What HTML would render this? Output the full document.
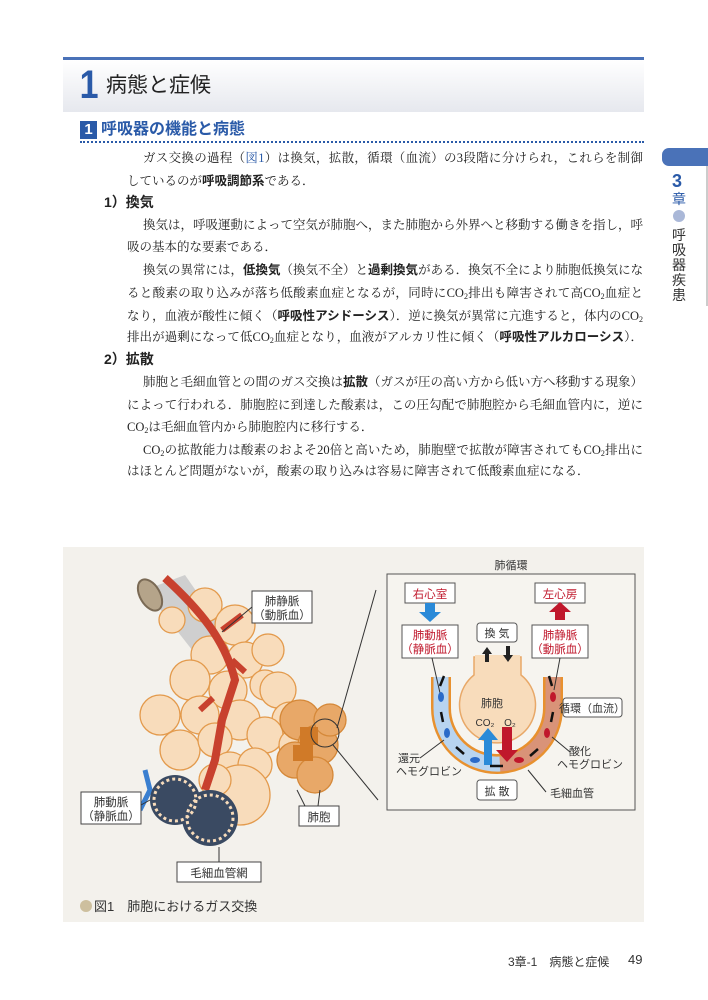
<!DOCTYPE html>
<html><head><meta charset="utf-8">
<style>
*{margin:0;padding:0;box-sizing:border-box}
body{width:708px;height:1000px;background:#fff;position:relative;overflow:hidden;font-family:"Liberation Serif","Noto Serif CJK SC","Noto Sans CJK JP",serif;color:#222}
.sans{font-family:"Liberation Sans","Noto Sans CJK JP",sans-serif}
.abs{position:absolute}
.ln{position:absolute;left:127px;width:516px;font-size:12.5px;line-height:20px;white-space:nowrap;text-align:justify;text-align-last:justify}
.ind{left:143px;width:500px}
.b{font-family:"Liberation Sans","Noto Sans CJK JP",sans-serif;font-weight:bold}
.bl{color:#2a5aa8}
sub{font-size:8px;vertical-align:-2px}
</style></head><body>
<div class="abs" style="left:63px;top:57px;width:581px;height:3px;background:#4a72b8"></div>
<div class="abs" style="left:63px;top:60px;width:581px;height:52px;background:linear-gradient(#ffffff,#e6e8ee)"></div>
<div class="abs sans" style="left:78px;top:62px;font-size:40px;line-height:46px;color:#2a5aa8;font-weight:bold;transform:scaleX(0.85)">1</div>
<div class="abs sans" style="left:106px;top:72px;font-size:21px;line-height:28px;color:#222">病態と症候</div>

<div class="abs sans" style="left:80px;top:121px;width:17px;height:18px;background:#2a5aa8;color:#fff;font-weight:bold;font-size:15px;line-height:18px;text-align:center">1</div>
<div class="abs sans" style="left:101px;top:119px;font-size:16px;line-height:22px;color:#2a5aa8;font-weight:bold">呼吸器の機能と病態</div>
<div class="abs" style="left:80px;top:141px;width:564px;border-top:2px dotted #2a5aa8"></div>

<div class="abs" style="left:662px;top:148px;width:46px;height:18px;background:#4a72b8;border-radius:7px 0 0 7px"></div>
<div class="abs" style="left:706px;top:166px;width:2px;height:140px;background:#ccc"></div>
<div class="abs sans" style="left:672px;top:171px;font-size:18px;font-weight:bold;color:#2a5aa8;line-height:20px">3</div>
<div class="abs sans" style="left:672px;top:191px;font-size:14px;color:#2a5aa8;line-height:16px">章</div>
<div class="abs" style="left:673px;top:210px;width:12px;height:12px;border-radius:50%;background:#aab8d8"></div>
<div class="abs sans" style="left:672px;top:228px;font-size:14px;line-height:15px;width:16px;color:#333">呼<br>吸<br>器<br>疾<br>患</div>

<div class="ln ind" style="top:148px">ガス交換の過程（<span class="bl">図1</span>）は換気，拡散，循環（血流）の3段階に分けられ，これらを制御</div>
<div class="ln" style="top:171px;text-align-last:left">しているのが<span class="b">呼吸調節系</span>である．</div>
<div class="abs b" style="left:104px;top:192px;font-size:14px;line-height:20px">1）換気</div>
<div class="ln ind" style="top:215px">換気は，呼吸運動によって空気が肺胞へ，また肺胞から外界へと移動する働きを指し，呼</div>
<div class="ln" style="top:237px;text-align-last:left">吸の基本的な要素である．</div>
<div class="ln ind" style="top:260px">換気の異常には，<span class="b">低換気</span>（換気不全）と<span class="b">過剰換気</span>がある．換気不全により肺胞低換気にな</div>
<div class="ln" style="top:283px">ると酸素の取り込みが落ち低酸素血症となるが，同時にCO<sub>2</sub>排出も障害されて高CO<sub>2</sub>血症と</div>
<div class="ln" style="top:306px">なり，血液が酸性に傾く（<span class="b">呼吸性アシドーシス</span>）．逆に換気が異常に亢進すると，体内のCO<sub>2</sub></div>
<div class="ln" style="top:327px">排出が過剰になって低CO<sub>2</sub>血症となり，血液がアルカリ性に傾く（<span class="b">呼吸性アルカローシス</span>）．</div>
<div class="abs b" style="left:104px;top:349px;font-size:14px;line-height:20px">2）拡散</div>
<div class="ln ind" style="top:372px">肺胞と毛細血管との間のガス交換は<span class="b">拡散</span>（ガスが圧の高い方から低い方へ移動する現象）</div>
<div class="ln" style="top:395px">によって行われる．肺胞腔に到達した酸素は，この圧勾配で肺胞腔から毛細血管内に，逆に</div>
<div class="ln" style="top:417px;text-align-last:left">CO<sub>2</sub>は毛細血管内から肺胞腔内に移行する．</div>
<div class="ln ind" style="top:440px">CO<sub>2</sub>の拡散能力は酸素のおよそ20倍と高いため，肺胞壁で拡散が障害されてもCO<sub>2</sub>排出に</div>
<div class="ln" style="top:461px;text-align-last:left">はほとんど問題がないが，酸素の取り込みは容易に障害されて低酸素血症になる．</div>

<svg class="abs" style="left:0;top:0" width="708" height="1000" font-family="Liberation Sans,Noto Sans CJK JP,sans-serif">
<rect x="63" y="547" width="581" height="375" fill="#f3f1ec"/>
<path d="M145,590 L185,575 L230,640 L200,660 Z" fill="#cfcfcf"/>
<ellipse cx="150" cy="595" rx="10" ry="17" transform="rotate(-30 150 595)" fill="#b5a48a" stroke="#7a6a55" stroke-width="2"/>
<g fill="#f8dcbb" stroke="#e39a4c" stroke-width="1.3">
<circle cx="172" cy="620" r="13"/><circle cx="205" cy="605" r="17"/><circle cx="235" cy="625" r="20"/>
<circle cx="210" cy="655" r="19"/><circle cx="245" cy="660" r="18"/><circle cx="268" cy="650" r="16"/>
<circle cx="190" cy="680" r="20"/><circle cx="228" cy="690" r="19"/><circle cx="265" cy="685" r="15"/>
<circle cx="160" cy="715" r="20"/><circle cx="200" cy="715" r="19"/><circle cx="240" cy="720" r="20"/>
<circle cx="278" cy="690" r="18"/><circle cx="290" cy="720" r="18"/><circle cx="265" cy="735" r="18"/>
<circle cx="180" cy="750" r="20"/><circle cx="215" cy="740" r="17"/><circle cx="230" cy="770" r="18"/>
<circle cx="255" cy="765" r="17"/><circle cx="240" cy="795" r="30"/><circle cx="215" cy="780" r="16"/>
<circle cx="295" cy="745" r="16"/>
</g>
<g fill="#e8a868" stroke="#d58838" stroke-width="1.3">
<circle cx="300" cy="720" r="20"/><circle cx="318" cy="745" r="20"/><circle cx="295" cy="760" r="18"/>
<circle cx="315" cy="775" r="18"/><circle cx="330" cy="720" r="16"/>
</g>
<rect x="300" y="727" width="18" height="18" fill="#d07a28"/><rect x="293" y="745" width="20" height="16" fill="#d07a28"/>
<circle cx="325" cy="733" r="14" fill="none" stroke="#333" stroke-width="1"/>
<line x1="337" y1="728" x2="376" y2="590" stroke="#333"/><line x1="333" y1="745" x2="378" y2="800" stroke="#333"/>
<path d="M165,578 C200,610 225,640 235,680 L222,720 L215,760 L205,790" fill="none" stroke="#c8412e" stroke-width="8"/>
<path d="M222,630 L242,615 M232,660 L245,672 M213,698 L200,710" stroke="#c8412e" stroke-width="6"/>
<path d="M145,770 L150,790 L160,800 M150,790 L140,810" stroke="#3a7fd0" stroke-width="5" fill="none"/>
<circle cx="175" cy="800" r="25" fill="#3a4a62"/><circle cx="210" cy="818" r="28" fill="#3a4a62"/>
<circle cx="175" cy="800" r="21" fill="none" stroke="#f8dcbb" stroke-width="3" stroke-dasharray="3 3"/>
<circle cx="210" cy="818" r="23" fill="none" stroke="#f8dcbb" stroke-width="3" stroke-dasharray="3 3"/>
<g fill="#fff" stroke="#444" stroke-width="1">
<rect x="252" y="591" width="60" height="32"/><rect x="81" y="792" width="60" height="32"/>
<rect x="299" y="806" width="40" height="20"/><rect x="177" y="862" width="84" height="20"/>
</g>
<line x1="252" y1="607" x2="222" y2="632" stroke="#333"/><line x1="141" y1="805" x2="150" y2="800" stroke="#333"/>
<line x1="219" y1="847" x2="219" y2="862" stroke="#333"/><line x1="305" y1="806" x2="297" y2="790" stroke="#333"/><line x1="318" y1="806" x2="320" y2="790" stroke="#333"/>
<g font-size="11.5" fill="#333" text-anchor="middle">
<text x="282" y="605">肺静脈</text><text x="282" y="619">（動脈血）</text>
<text x="111" y="806">肺動脈</text><text x="111" y="820">（静脈血）</text>
<text x="319" y="821">肺胞</text><text x="219" y="877">毛細血管網</text>
</g>
<circle cx="86" cy="906" r="6" fill="#cdbf9e"/>
<text x="94" y="911" font-size="13" fill="#333">図1　肺胞におけるガス交換</text>

<rect x="387" y="574" width="248" height="236" fill="#f6f4ef" stroke="#555" stroke-width="1"/>
<text x="511" y="569" font-size="11" fill="#333" text-anchor="middle">肺循環</text>
<!-- U tube -->
<path d="M441,677 V708 A56,56 0 0 0 553,708 V677" fill="none" stroke="#e8912f" stroke-width="20"/>
<path d="M441,677 V708 A56,56 0 0 0 500,764" fill="none" stroke="#b8d4f0" stroke-width="15"/>
<path d="M500,764 A56,56 0 0 0 553,708 V677" fill="none" stroke="#d99378" stroke-width="15"/>
<path d="M474,657 V675 A38,38 0 1 0 521,675 V657 Z" fill="#f8dcbb" stroke="#e8a868" stroke-width="1.5"/>
<rect x="475" y="655" width="45" height="24" fill="#f8dcbb"/>
<g fill="#fff" stroke="#555">
<rect x="405" y="583" width="50" height="20"/><rect x="535" y="583" width="50" height="20"/>
<rect x="402" y="625" width="56" height="33"/><rect x="532" y="625" width="56" height="33"/>
<rect x="477" y="623" width="40" height="19" rx="3"/><rect x="563" y="698" width="59" height="19" rx="3"/>
<rect x="477" y="780" width="40" height="20" rx="3"/>
</g>
<line x1="432" y1="658" x2="440" y2="693" stroke="#333"/><line x1="560" y1="658" x2="554" y2="690" stroke="#333"/>
<path d="M425,603 h10 v9 h6 l-11,10 l-11,-10 h6z" fill="#2a8ad8"/>
<path d="M555,620 h10 v-8 h6 l-11,-10 l-11,10 h6z" fill="#c0182c"/>
<path d="M484,765 v-25 h-6 l10,-12 l10,12 h-6 v25z" fill="#2a8ad8"/>
<path d="M502,727 v23 h-6 l11,12 l11,-12 h-6 v-23z" fill="#c0182c"/>
<g font-size="11.5" fill="#c0182c" text-anchor="middle">
<text x="430" y="598">右心室</text><text x="560" y="598">左心房</text>
<text x="430" y="639">肺動脈</text><text x="430" y="653">（静脈血）</text>
<text x="560" y="639">肺静脈</text><text x="560" y="653">（動脈血）</text>
</g>
<g font-size="11" fill="#333" text-anchor="middle">
<text x="497" y="637">換 気</text><text x="592" y="712">循環（血流）</text><text x="497" y="795">拡 散</text>
<text x="492" y="707">肺胞</text><text x="485" y="726" font-size="10">CO₂</text><text x="510" y="726" font-size="10">O₂</text>
<text x="409" y="762">還元</text><text x="429" y="775">ヘモグロビン</text>
<text x="580" y="755">酸化</text><text x="590" y="768">ヘモグロビン</text><text x="572" y="797">毛細血管</text>
</g>
<line x1="420" y1="758" x2="444" y2="740" stroke="#333"/><line x1="570" y1="752" x2="552" y2="737" stroke="#333"/><line x1="546" y1="792" x2="528" y2="770" stroke="#333"/>
<g fill="#222"><path d="M487,647 l-5,7 h3 v8 h4 v-8 h3z"/><path d="M506,646 v9 h-3 l5,7 l5,-7 h-3 v-9z"/></g>
<g fill="#2a6ac8"><ellipse cx="441" cy="697" rx="3" ry="5"/><ellipse cx="447" cy="733" rx="3" ry="5"/><ellipse cx="475" cy="760" rx="5" ry="3"/></g>
<g fill="#c0182c"><ellipse cx="553" cy="697" rx="3" ry="5"/><ellipse cx="547" cy="733" rx="3" ry="5"/><ellipse cx="519" cy="760" rx="5" ry="3"/></g>
<g stroke="#111" stroke-width="2.5"><line x1="444" y1="676" x2="440" y2="686"/><line x1="441" y1="712" x2="443" y2="722"/><line x1="456" y1="747" x2="464" y2="754"/><line x1="490" y1="766" x2="503" y2="766"/><line x1="530" y1="756" x2="538" y2="749"/><line x1="551" y1="722" x2="553" y2="712"/><line x1="552" y1="686" x2="549" y2="676"/></g>
</svg>
<div class="abs sans" style="left:508px;top:953px;font-size:12px;color:#333">3章-1　病態と症候</div>
<div class="abs sans" style="left:628px;top:952px;font-size:13px;color:#333">49</div>
</body></html>
